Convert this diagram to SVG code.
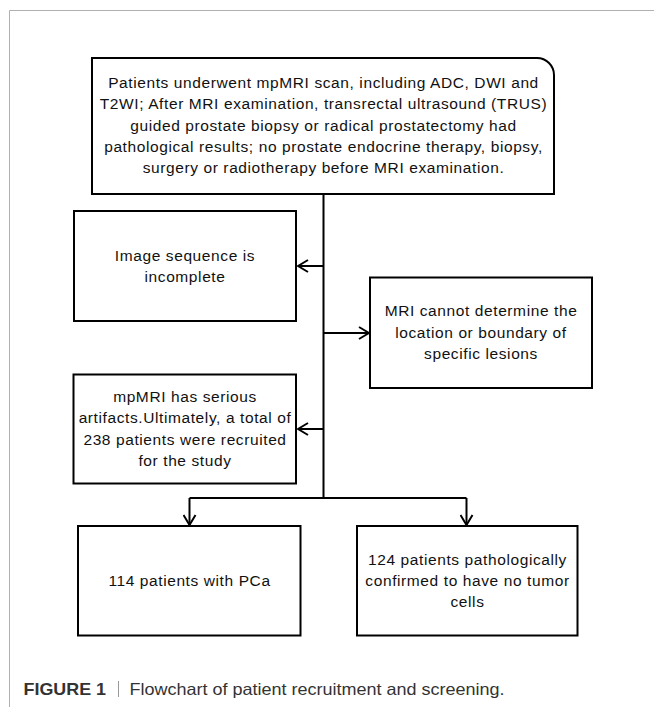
<svg xmlns="http://www.w3.org/2000/svg" width="654" height="707" viewBox="0 0 654 707">
<style>
.box{fill:#fff;stroke:#000;stroke-width:2}
.t{font-family:"Liberation Sans",Arial,sans-serif;font-size:15.5px;letter-spacing:0.6px;fill:#111;text-anchor:middle}
.con{stroke:#000;stroke-width:2;fill:none}
.frame{stroke:#b0b0b0;stroke-width:1;fill:none}
.cap{font-family:"Liberation Sans",Arial,sans-serif;font-size:16.5px;fill:#333}
</style>
<defs>
<marker id="arr" viewBox="0 0 12 14" refX="11" refY="7" markerWidth="12" markerHeight="14" markerUnits="userSpaceOnUse" orient="auto">
<path d="M1,1 L11,7 L1,13" fill="none" stroke="#000" stroke-width="2"/>
</marker>
</defs>
<rect width="654" height="707" fill="#fff"/>
<path class="frame" d="M654,10.5 H9.5 V707"/>

<g id="connectors">
<path class="con" d="M323.5,194 V498"/>
<path class="con" d="M323.5,266 H298" marker-end="url(#arr)"/>
<path class="con" d="M323.5,333 H369" marker-end="url(#arr)"/>
<path class="con" d="M323.5,429 H298" marker-end="url(#arr)"/>
<path class="con" d="M189.5,498 H466.5"/>
<path class="con" d="M189.5,498 V525" marker-end="url(#arr)"/>
<path class="con" d="M466.5,498 V525" marker-end="url(#arr)"/>
</g>

<g id="start">
<path class="box" d="M92,58 H537 A17,17 0 0 1 554,75 V194 H92 Z"/>
<text class="t" x="323.5" y="88">Patients underwent mpMRI scan, including ADC, DWI and</text>
<text class="t" x="323.5" y="109.3">T2WI; After MRI examination, transrectal ultrasound (TRUS)</text>
<text class="t" x="323.5" y="130.6">guided prostate biopsy or radical prostatectomy had</text>
<text class="t" x="323.5" y="151.9">pathological results; no prostate endocrine therapy, biopsy,</text>
<text class="t" x="323.5" y="173.2">surgery or radiotherapy before MRI examination.</text>
</g>

<g id="incomplete">
<rect class="box" x="74" y="211" width="222" height="110"/>
<text class="t" x="185" y="260.5">Image sequence is</text>
<text class="t" x="185" y="281.8">incomplete</text>
</g>

<g id="location">
<rect class="box" x="370" y="277.5" width="222" height="110.5"/>
<text class="t" x="481" y="316.2">MRI cannot determine the</text>
<text class="t" x="481" y="337.5">location or boundary of</text>
<text class="t" x="481" y="358.8">specific lesions</text>
</g>

<g id="artifacts">
<rect class="box" x="73.5" y="374.5" width="222.5" height="109"/>
<text class="t" x="185" y="402">mpMRI has serious</text>
<text class="t" x="185" y="423.3">artifacts.Ultimately, a total of</text>
<text class="t" x="185" y="444.6">238 patients were recruited</text>
<text class="t" x="185" y="465.9">for the study</text>
</g>

<g id="pca">
<rect class="box" x="78" y="526" width="222.5" height="109.5"/>
<text class="t" x="189.5" y="586">114 patients with PCa</text>
</g>

<g id="notumor">
<rect class="box" x="357" y="526" width="220.5" height="109.5"/>
<text class="t" x="467.5" y="564.7">124 patients pathologically</text>
<text class="t" x="467.5" y="586">confirmed to have no tumor</text>
<text class="t" x="467.5" y="607.3">cells</text>
</g>

<g id="caption">
<text class="cap" x="23.5" y="695" font-weight="bold" textLength="82.5" lengthAdjust="spacingAndGlyphs">FIGURE 1</text>
<line x1="118.5" y1="681" x2="118.5" y2="697" stroke="#999" stroke-width="1"/>
<text class="cap" x="129.5" y="695" textLength="375" lengthAdjust="spacingAndGlyphs">Flowchart of patient recruitment and screening.</text>
</g>
</svg>
